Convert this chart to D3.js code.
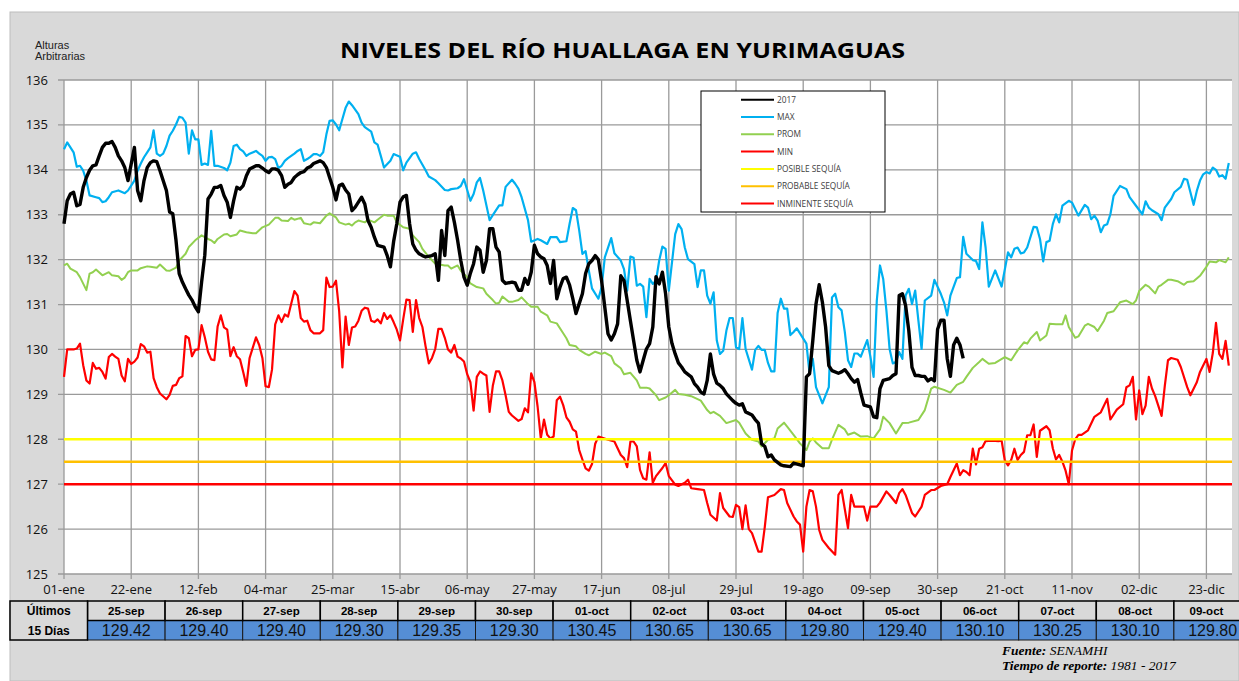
<!DOCTYPE html>
<html>
<head>
<meta charset="utf-8">
<script src="https://cdn.jsdelivr.net/npm/d3@7"></script>
<style>
  body { margin: 0; background: #fff; }
  svg { display: block; }
</style>
</head>
<body>
<svg id="chart" width="1239" height="681"></svg>
<script>
// ---- data (day of year 0 = 01-ene, value in m) ----
var tickLabels = ["01-ene","22-ene","12-feb","04-mar","25-mar","15-abr","06-may","27-may","17-jun",
  "08-jul","29-jul","19-ago","09-sep","30-sep","21-oct","11-nov","02-dic","23-dic"];

var seriesMax = [[0,134.46],[1,134.61],[3,134.39],[4,134.07],[5,134.09],[6,133.98],[7,133.76],[8,133.43],[10,133.39],
  [11,133.37],[12,133.28],[13,133.30],[14,133.39],[15,133.50],[17,133.54],[19,133.48],[20,133.54],[22,133.76],[23,133.98],
  [24,134.14],[25,134.28],[26,134.39],[27,134.50],[28,134.88],[29,134.36],[30,134.31],[31,134.36],[32,134.53],[33,134.76],
  [34,134.87],[35,135.01],[36,135.18],[37,135.16],[38,135.05],[39,134.36],[40,134.88],[41,134.68],[42,134.68],[43,134.11],
  [44,134.14],[45,134.11],[46,134.87],[47,134.09],[48,134.09],[50,134.04],[51,133.99],[52,134.16],[53,134.53],[54,134.56],
  [55,134.46],[56,134.41],[57,134.31],[58,134.36],[60,134.42],[61,134.36],[62,134.31],[63,134.20],[64,134.28],[65,134.29],
  [66,134.24],[67,134.04],[68,134.09],[69,134.20],[70,134.26],[72,134.36],[73,134.42],[74,134.46],[75,134.20],[76,134.24],
  [77,134.29],[78,134.35],[79,134.35],[80,134.31],[81,134.39],[82,134.79],[83,135.09],[84,135.10],[85,135.01],[86,134.88],
  [87,135.13],[88,135.38],[89,135.52],[90,135.44],[92,135.24],[93,135.05],[94,134.95],[96,134.85],[97,134.61],[98,134.56],
  [99,134.31],[100,134.05],[102,134.20],[103,134.35],[105,134.29],[106,133.99],[107,134.16],[109,134.36],[110,134.39],
  [111,134.24],[113,133.99],[114,133.85],[116,133.77],[117,133.70],[119,133.55],[120,133.54],[121,133.57],[123,133.59],
  [124,133.64],[125,133.79],[127,133.31],[128,133.46],[129,133.72],[130,133.82],[131,133.54],[133,132.88],[134,132.99],
  [136,133.21],[137,133.21],[138,133.62],[140,133.78],[141,133.69],[142,133.58],[143,133.39],[145,132.88],[146,132.40],
  [148,132.46],[149,132.43],[151,132.35],[152,132.50],[154,132.50],[155,132.39],[157,132.41],[158,132.80],[159,133.15],
  [160,133.10],[161,132.65],[162,132.13],[163,132.19],[164,131.76],[165,131.36],[167,131.13],[168,131.39],[169,132.05],
  [171,132.48],[172,132.14],[174,131.98],[175,131.79],[176,131.31],[177,132.07],[178,132.04],[179,131.42],[180,131.46],
  [181,131.40],[182,130.72],[183,131.57],[184,131.46],[185,131.53],[186,131.98],[187,132.29],[188,132.24],[189,131.31],
  [191,132.57],[192,132.79],[193,132.68],[194,132.27],[195,132.01],[197,131.90],[198,131.39],[199,131.76],[200,131.76],
  [201,131.20],[202,131.02],[203,131.27],[204,130.20],[205,129.90],[206,129.97],[207,130.42],[208,130.70],[209,130.70],
  [210,130.05],[211,130.01],[212,130.70],[213,130.01],[215,129.55],[216,129.99],[217,130.08],[218,129.99],[219,129.99],
  [220,129.70],[221,129.51],[222,129.51],[223,130.81],[224,131.13],[225,130.91],[226,130.91],[227,130.32],[228,130.39],
  [229,130.47],[230,130.36],[232,130.13],[233,129.46],[234,129.79],[235,129.16],[237,128.80],[239,129.16],[240,131.16],
  [241,131.24],[242,130.94],[243,130.87],[244,130.39],[245,129.76],[246,129.61],[247,129.91],[248,129.91],[249,129.84],
  [251,130.21],[252,129.84],[253,129.39],[254,131.09],[255,131.87],[256,131.57],[257,130.87],[258,130.01],[259,129.69],
  [260,129.72],[261,129.94],[262,129.79],[263,131.20],[264,131.35],[265,131.01],[266,131.31],[267,130.64],[268,130.01],
  [269,131.09],[271,131.20],[272,131.55],[274,131.24],[275,131.05],[276,130.76],[277,131.20],[279,131.59],[280,131.61],
  [281,132.51],[282,132.13],[284,131.99],[285,131.97],[286,131.79],[287,132.83],[288,132.27],[289,131.40],[291,131.76],
  [293,131.40],[295,132.16],[296,132.05],[297,132.24],[298,132.27],[299,132.14],[300,132.16],[301,132.27],[303,132.73],
  [304,132.72],[305,132.46],[306,131.96],[307,132.39],[308,132.42],[309,132.79],[310,133.01],[311,132.83],[312,133.20],
  [314,133.31],[315,133.27],[317,132.98],[319,133.22],[320,133.16],[321,132.90],[322,132.98],[323,132.87],[324,132.61],
  [325,132.76],[326,132.79],[327,133.01],[328,133.42],[330,133.64],[332,133.57],[333,133.39],[335,133.20],[337,133.01],
  [338,133.30],[339,133.16],[340,133.10],[342,133.01],[343,132.88],[344,133.16],[346,133.35],[347,133.50],[349,133.62],
  [350,133.80],[351,133.78],[352,133.50],[353,133.22],[354,133.53],[355,133.76],[356,133.90],[357,133.95],[358,133.92],
  [359,134.05],[360,134.00],[361,133.85],[362,133.88],[363,133.80],[364,134.15]];

var seriesProm = [[0,131.87],[1,131.91],[2,131.80],[4,131.72],[5,131.61],[7,131.32],[8,131.69],[9,131.72],[10,131.78],
  [12,131.65],[14,131.72],[15,131.65],[17,131.63],[18,131.55],[19,131.60],[20,131.72],[21,131.76],[23,131.76],[24,131.81],
  [26,131.85],[27,131.84],[29,131.82],[30,131.89],[32,131.76],[33,131.75],[35,131.82],[36,131.98],[38,132.13],[39,132.28],
  [41,132.43],[43,132.54],[45,132.46],[46,132.43],[47,132.37],[48,132.46],[50,132.56],[51,132.57],[52,132.52],[54,132.56],
  [55,132.65],[57,132.61],[59,132.59],[60,132.59],[62,132.72],[64,132.78],[66,132.93],[67,132.93],[68,132.87],[70,132.86],
  [71,132.93],[72,132.89],[74,132.93],[75,132.81],[77,132.78],[78,132.83],[80,132.81],[82,132.98],[83,133.03],[85,132.94],
  [86,132.83],[88,132.78],[89,132.80],[90,132.76],[91,132.83],[92,132.87],[94,132.83],[95,132.89],[97,132.83],[98,132.89],
  [100,133.00],[101,132.98],[103,132.98],[104,132.83],[106,132.72],[108,132.69],[109,132.54],[111,132.39],[112,132.24],
  [114,132.06],[116,131.91],[119,131.87],[120,131.87],[121,131.80],[123,131.87],[124,131.75],[126,131.61],[127,131.47],
  [129,131.39],[131,131.36],[132,131.24],[134,131.10],[135,131.02],[136,131.04],[137,131.18],[139,131.06],[140,131.06],
  [142,131.10],[143,131.16],[145,131.01],[146,130.95],[148,130.95],[149,130.84],[151,130.76],[152,130.62],[154,130.58],
  [156,130.36],[157,130.25],[158,130.10],[160,130.07],[161,129.99],[163,129.90],[164,129.87],[166,129.95],[168,129.90],
  [169,129.93],[171,129.85],[172,129.69],[174,129.58],[175,129.45],[177,129.48],[179,129.31],[180,129.15],[182,129.15],
  [183,129.13],[185,128.98],[186,128.87],[188,128.93],[189,128.98],[191,129.10],[192,129.01],[194,128.99],[196,128.96],
  [199,128.86],[201,128.65],[202,128.58],[203,128.61],[205,128.52],[207,128.36],[210,128.43],[211,128.37],[213,128.13],
  [215,127.99],[217,127.95],[218,127.84],[220,127.99],[222,128.02],[223,128.24],[225,128.37],[226,128.28],[228,128.10],
  [230,127.91],[232,127.76],[233,127.95],[234,128.02],[235,127.93],[237,127.80],[239,127.80],[240,127.99],[242,128.32],
  [244,128.22],[245,128.10],[247,128.15],[249,128.06],[251,128.07],[253,128.02],[255,128.22],[256,128.50],[258,128.36],
  [260,128.13],[262,128.36],[264,128.37],[267,128.43],[269,128.65],[271,129.13],[272,129.17],[275,129.10],[277,129.04],
  [279,129.21],[281,129.28],[282,129.39],[284,129.59],[286,129.72],[287,129.79],[289,129.68],[291,129.70],[294,129.83],
  [296,129.76],[298,129.98],[300,130.16],[301,130.13],[302,130.24],[304,130.39],[305,130.20],[307,130.31],[308,130.57],
  [310,130.56],[312,130.56],[313,130.76],[314,130.50],[316,130.26],[317,130.29],[319,130.53],[320,130.57],[322,130.50],
  [323,130.41],[325,130.64],[326,130.81],[328,130.85],[330,131.05],[332,131.09],[334,131.01],[335,131.09],[336,131.30],
  [338,131.44],[339,131.40],[341,131.25],[342,131.40],[343,131.44],[345,131.55],[346,131.55],[348,131.52],[350,131.44],
  [351,131.50],[353,131.52],[355,131.64],[357,131.84],[358,131.96],[360,131.94],[361,131.99],[363,131.94],[364,132.05]];

var seriesMin = [[0,129.39],[1,130.00],[3,130.00],[4,130.02],[5,130.13],[6,129.65],[7,129.31],[8,129.24],[9,129.70],
  [10,129.57],[11,129.59],[12,129.50],[13,129.35],[14,129.83],[15,129.90],[16,129.84],[17,129.79],[18,129.42],[19,129.29],
  [20,129.79],[21,129.68],[22,129.73],[23,129.82],[24,130.12],[25,130.07],[26,129.93],[27,129.95],[28,129.36],[29,129.16],
  [30,129.02],[32,128.89],[33,128.99],[34,129.19],[35,129.21],[36,129.36],[37,129.40],[38,130.30],[39,130.25],[40,129.85],
  [41,129.99],[42,130.00],[43,130.54],[44,130.27],[45,129.95],[46,129.78],[47,129.76],[48,130.51],[49,130.76],[50,130.49],
  [51,130.44],[52,129.85],[53,130.05],[54,129.85],[55,129.78],[56,129.50],[57,129.19],[58,129.81],[59,130.04],[60,130.27],
  [61,130.10],[62,129.81],[63,129.18],[64,129.16],[65,129.55],[66,130.56],[67,130.76],[68,130.61],[69,130.78],[70,130.73],
  [71,131.02],[72,131.30],[73,131.20],[74,130.70],[75,130.62],[76,130.64],[77,130.43],[78,130.36],[80,130.36],[81,130.43],
  [82,131.60],[83,131.39],[84,131.40],[85,131.53],[86,130.84],[87,129.60],[88,130.73],[89,130.10],[90,130.49],[91,130.51],
  [92,130.64],[93,130.86],[94,130.93],[95,130.91],[96,130.64],[97,130.61],[98,130.67],[99,130.58],[100,130.81],[101,130.68],
  [102,130.76],[103,130.61],[104,130.44],[105,130.20],[106,130.67],[107,131.11],[108,131.10],[109,130.39],[110,131.10],
  [111,130.70],[112,130.50],[113,130.07],[114,129.69],[115,129.81],[116,130.01],[117,130.46],[118,130.46],[119,130.26],
  [120,130.00],[121,129.93],[122,130.10],[123,129.84],[124,129.80],[125,129.73],[126,129.45],[127,129.27],[128,128.64],
  [129,129.39],[130,129.51],[131,129.46],[132,129.42],[133,128.61],[134,129.19],[135,129.51],[136,129.51],[137,129.31],
  [138,128.98],[139,128.61],[140,128.53],[142,128.41],[143,128.45],[144,128.69],[145,128.60],[146,129.47],[147,129.27],
  [148,128.73],[149,128.02],[150,128.44],[151,128.10],[152,128.02],[153,128.06],[154,128.87],[155,128.95],[156,128.76],
  [157,128.49],[158,128.39],[159,128.22],[160,128.17],[161,127.76],[162,127.55],[163,127.35],[164,127.30],[165,127.45],
  [166,127.90],[167,128.06],[168,128.04],[170,127.99],[172,127.95],[174,127.65],[175,127.58],[176,127.38],[177,127.95],
  [178,127.95],[179,127.84],[180,127.32],[181,127.13],[182,127.10],[183,127.71],[184,127.03],[185,127.18],[187,127.36],
  [188,127.47],[189,127.18],[191,126.99],[192,126.96],[194,127.03],[195,127.10],[196,126.91],[198,126.89],[200,126.87],
  [201,126.58],[202,126.32],[204,126.19],[205,126.80],[206,126.47],[208,126.28],[209,126.27],[210,126.54],[211,126.49],
  [212,126.00],[213,126.53],[214,126.00],[215,125.91],[217,125.50],[218,125.50],[219,126.05],[220,126.71],[222,126.76],
  [224,126.89],[225,126.87],[226,126.58],[228,126.28],[229,126.17],[230,126.10],[231,125.50],[232,126.50],[233,126.87],
  [234,126.84],[235,126.50],[236,125.98],[237,125.76],[239,125.58],[241,125.43],[242,126.76],[243,126.87],[245,126.02],
  [246,126.76],[247,126.50],[250,126.50],[251,126.19],[252,126.50],[254,126.50],[255,126.59],[257,126.84],[258,126.76],
  [260,126.58],[261,126.80],[262,126.89],[263,126.76],[265,126.36],[266,126.28],[268,126.50],[269,126.76],[271,126.87],
  [272,126.87],[274,126.96],[276,127.00],[277,127.16],[279,127.46],[280,127.20],[281,127.31],[282,127.27],[283,127.20],
  [284,127.79],[285,127.44],[286,127.79],[287,127.82],[288,127.96],[290,127.97],[292,127.96],[293,127.97],[294,127.53],
  [295,127.42],[296,127.54],[297,127.79],[298,127.54],[299,127.65],[300,127.72],[301,128.09],[302,128.09],[303,128.33],
  [304,127.61],[305,128.19],[307,128.29],[308,128.20],[309,127.80],[310,127.55],[311,127.65],[312,127.50],[313,127.30],
  [314,127.00],[315,127.75],[316,128.00],[317,128.10],[318,128.10],[320,128.20],[322,128.50],[324,128.60],[326,128.90],
  [327,128.44],[329,128.66],[331,128.78],[332,129.16],[333,129.20],[334,129.39],[335,128.44],[336,129.09],[337,128.56],
  [338,128.75],[339,129.39],[340,129.13],[341,128.96],[343,128.52],[344,129.19],[345,129.76],[346,129.81],[348,129.77],
  [349,129.61],[351,129.16],[352,128.98],[354,129.27],[355,129.50],[357,129.79],[358,129.50],[359,129.92],[360,130.59],
  [361,129.90],[362,129.79],[363,130.19],[364,129.64]];

var series2017 = [[0,132.80],[1,133.31],[2,133.46],[3,133.50],[4,133.20],[5,133.23],[6,133.61],[7,133.83],[8,133.99],
  [9,134.09],[10,134.11],[11,134.31],[12,134.50],[13,134.59],[14,134.59],[15,134.63],[16,134.50],[17,134.31],[18,134.20],
  [19,134.05],[20,133.76],[21,134.13],[22,134.50],[23,133.54],[24,133.31],[25,133.76],[26,134.05],[27,134.16],[28,134.20],
  [29,134.18],[30,133.98],[32,133.54],[33,133.06],[34,133.02],[35,132.43],[36,131.69],[37,131.50],[38,131.35],[39,131.21],
  [40,131.10],[41,130.95],[42,130.84],[43,131.50],[44,132.10],[45,133.35],[46,133.46],[47,133.61],[48,133.61],[49,133.65],
  [50,133.43],[51,133.28],[52,132.94],[53,133.31],[54,133.61],[55,133.57],[56,133.65],[57,133.87],[58,134.02],[60,134.09],
  [61,134.09],[62,134.04],[63,133.98],[64,133.94],[65,134.02],[66,134.02],[67,133.99],[68,133.87],[69,133.61],[70,133.68],
  [71,133.72],[72,133.83],[73,133.89],[74,133.94],[75,133.96],[76,134.04],[77,134.07],[78,134.14],[80,134.20],[81,134.16],
  [82,134.05],[83,133.83],[84,133.61],[85,133.33],[86,133.65],[87,133.68],[88,133.55],[89,133.46],[90,133.09],[91,133.17],
  [92,133.28],[93,133.39],[94,133.24],[95,132.87],[96,132.72],[97,132.50],[98,132.32],[100,132.28],[101,132.09],[102,131.84],
  [103,132.40],[104,132.80],[105,133.28],[106,133.40],[107,133.43],[108,132.80],[109,132.35],[110,132.21],[111,132.13],
  [112,132.09],[113,132.06],[115,132.09],[116,132.13],[117,131.54],[118,132.65],[119,132.09],[120,133.09],[121,133.17],
  [122,132.83],[123,132.43],[124,131.98],[125,131.61],[126,131.43],[127,131.70],[128,131.91],[129,132.28],[130,132.21],
  [131,131.72],[132,131.98],[133,132.69],[134,132.69],[135,132.28],[136,132.17],[137,131.54],[138,131.47],[140,131.50],
  [141,131.48],[142,131.32],[143,131.32],[144,131.58],[145,131.45],[146,131.72],[147,132.32],[148,132.13],[149,132.06],
  [150,132.02],[151,131.87],[152,131.47],[153,131.98],[154,131.13],[155,131.39],[156,131.58],[157,131.61],[158,131.43],
  [159,131.13],[160,130.80],[161,131.02],[162,131.24],[163,131.69],[164,131.91],[165,131.98],[166,132.09],[167,132.00],
  [168,131.53],[169,130.94],[170,130.35],[171,130.21],[172,130.35],[173,130.57],[174,131.64],[175,131.53],[176,131.09],
  [177,130.64],[178,130.20],[179,129.76],[180,129.50],[181,129.76],[182,130.01],[183,130.13],[184,130.50],[185,131.62],
  [186,131.46],[187,131.72],[188,131.24],[189,130.50],[190,130.13],[191,129.90],[192,129.70],[193,129.61],[194,129.50],
  [196,129.39],[197,129.24],[198,129.16],[199,129.05],[200,129.01],[201,129.31],[202,129.90],[203,129.45],[204,129.25],
  [205,129.20],[206,129.13],[207,129.01],[209,128.86],[210,128.80],[211,128.76],[212,128.79],[213,128.61],[215,128.54],
  [216,128.44],[217,128.36],[218,127.90],[219,127.84],[220,127.61],[221,127.65],[222,127.54],[224,127.43],[225,127.41],
  [227,127.39],[228,127.47],[230,127.43],[231,127.41],[232,129.39],[233,129.46],[234,130.20],[235,131.01],[236,131.44],
  [237,131.05],[238,130.50],[239,129.64],[240,129.53],[242,129.47],[243,129.50],[244,129.55],[245,129.46],[246,129.35],
  [247,129.27],[248,129.33],[249,129.03],[250,128.76],[252,128.72],[253,128.50],[254,128.48],[255,129.13],[256,129.31],
  [258,129.35],[259,129.42],[260,129.46],[261,131.20],[262,131.24],[263,130.98],[264,130.42],[265,129.60],[266,129.42]];

// last 15 days (also the end of the 2017 line)
var tableDates = ["25-sep","26-sep","27-sep","28-sep","29-sep","30-sep","01-oct","02-oct","03-oct",
  "04-oct","05-oct","06-oct","07-oct","08-oct","09-oct"];
var tableValues = [129.42,129.40,129.40,129.30,129.35,129.30,130.45,130.65,130.65,129.80,129.40,130.10,130.25,130.10,129.80];
var tableFirstDay = 267;

var thresholds = [
  {name: "POSIBLE SEQUÍA", value: 128, color: "#ffff00"},
  {name: "PROBABLE SEQUÍA", value: 127.5, color: "#ffc000"},
  {name: "INMINENTE SEQUÍA", value: 127, color: "#ff0000"}
];

var lineSeries = [
  {name: "MIN", data: seriesMin, color: "#ff0000", width: 2.2},
  {name: "PROM", data: seriesProm, color: "#92d050", width: 2},
  {name: "MAX", data: seriesMax, color: "#00b0f0", width: 2.2}
];

var fullYear = series2017.concat(tableValues.map(function(v, i) { return [tableFirstDay + i, v]; }));

// ---- layout ----
var svg = d3.select("#chart");
var plot = {left: 64, right: 1232, top: 80, bottom: 574};
var x = d3.scaleLinear().domain([0, 365]).range([plot.left, plot.right]);
var y = d3.scaleLinear().domain([125, 136]).range([plot.bottom, plot.top]);
var gridColor = "#9a9a9a";

// gray panel
svg.append("rect").attr("x", 10).attr("y", 12).attr("width", 1229).attr("height", 669)
  .attr("fill", "#d9d9d9").attr("stroke", "#bdbdbd").attr("stroke-width", 1);

svg.append("rect").attr("x", plot.left).attr("y", plot.top)
  .attr("width", plot.right - plot.left).attr("height", plot.bottom - plot.top)
  .attr("fill", "#fff");

// grid
var yTicks = y.ticks(11);
svg.append("g").selectAll("line.h").data(yTicks).enter().append("line")
  .attr("x1", plot.left - 6).attr("x2", plot.right)
  .attr("y1", function(d) { return y(d); }).attr("y2", function(d) { return y(d); })
  .attr("stroke", gridColor).attr("stroke-width", 1.3);

svg.append("g").selectAll("line.v").data(tickLabels).enter().append("line")
  .attr("x1", function(d, i) { return x(i * 21); }).attr("x2", function(d, i) { return x(i * 21); })
  .attr("y1", plot.top).attr("y2", plot.bottom + 5)
  .attr("stroke", gridColor).attr("stroke-width", 1.3);

// axis labels
svg.append("g").selectAll("text").data(yTicks).enter().append("text")
  .attr("x", 48).attr("y", function(d) { return y(d) + 4.5; })
  .attr("text-anchor", "end")
  .style("font", "13px 'Open Sans', sans-serif").attr("fill", "#111")
  .text(function(d) { return d; });

svg.append("g").selectAll("text").data(tickLabels).enter().append("text")
  .attr("x", function(d, i) { return x(i * 21); }).attr("y", 594)
  .attr("text-anchor", "middle")
  .style("font", "13px 'Open Sans', sans-serif").attr("fill", "#111")
  .text(function(d) { return d; });

svg.append("text").attr("x", 35).attr("y", 49)
  .style("font", "11px 'Liberation Sans', Arial, sans-serif").attr("fill", "#222").text("Alturas");
svg.append("text").attr("x", 35).attr("y", 60)
  .style("font", "11px 'Liberation Sans', Arial, sans-serif").attr("fill", "#222").text("Arbitrarias");

svg.append("text").attr("x", 340).attr("y", 58)
  .attr("textLength", 565).attr("lengthAdjust", "spacingAndGlyphs")
  .style("font", "bold 22px 'Open Sans', sans-serif").attr("fill", "#000")
  .text("NIVELES DEL RÍO HUALLAGA EN YURIMAGUAS");

// lines
var line = d3.line()
  .x(function(d) { return x(d[0]); })
  .y(function(d) { return y(d[1]); });

var gLines = svg.append("g").attr("fill", "none").attr("stroke-linejoin", "round");
lineSeries.forEach(function(s) {
  gLines.append("path").attr("d", line(s.data))
    .attr("stroke", s.color).attr("stroke-width", s.width);
});

gLines.selectAll("line.thr").data(thresholds).enter().append("line")
  .attr("x1", plot.left).attr("x2", plot.right)
  .attr("y1", function(d) { return y(d.value); }).attr("y2", function(d) { return y(d.value); })
  .attr("stroke", function(d) { return d.color; }).attr("stroke-width", 2.5);

gLines.append("path").attr("d", line(fullYear))
  .attr("stroke", "#000").attr("stroke-width", 3.4);

// legend
var legendItems = [{name: "2017", color: "#000"}]
  .concat(lineSeries.slice().reverse().map(function(s) { return {name: s.name, color: s.color}; }))
  .concat(thresholds);
var lg = svg.append("g");
lg.append("rect").attr("x", 701).attr("y", 91).attr("width", 184).attr("height", 121)
  .attr("fill", "#fff").attr("stroke", "#000").attr("stroke-width", 1);
var li = lg.selectAll("g.item").data(legendItems).enter().append("g")
  .attr("transform", function(d, i) { return "translate(0," + (99.7 + i * 17.3) + ")"; });
li.append("line").attr("x1", 741).attr("x2", 774)
  .attr("stroke", function(d) { return d.color; }).attr("stroke-width", 2);
li.append("text").attr("x", 777).attr("y", 3)
  .style("font", "8.3px 'Open Sans', sans-serif").attr("fill", "#404040")
  .text(function(d) { return d.name; });

// table
var tb = {left: 10, first: 77.5, col: 77.6, top: 601, rowH: 19.5, right: 1239};
var gt = svg.append("g");
var colX = tableDates.map(function(d, i) { return tb.left + tb.first + i * tb.col; });
gt.selectAll("rect.val").data(tableValues).enter().append("rect")
  .attr("x", function(d, i) { return colX[i]; }).attr("y", tb.top + tb.rowH)
  .attr("width", tb.col).attr("height", tb.rowH)
  .attr("fill", "#558ed5").attr("stroke", "#1a1a1a").attr("stroke-width", 1);
gt.selectAll("rect.hd").data(tableDates).enter().append("rect")
  .attr("x", function(d, i) { return colX[i]; }).attr("y", tb.top)
  .attr("width", tb.col).attr("height", tb.rowH)
  .attr("fill", "#d9d9d9").attr("stroke", "#000").attr("stroke-width", 1.5);
gt.append("rect").attr("x", tb.left).attr("y", tb.top).attr("width", tb.first).attr("height", tb.rowH * 2)
  .attr("fill", "#d9d9d9").attr("stroke", "#000").attr("stroke-width", 1.5);

gt.append("text").attr("x", tb.left + tb.first / 2).attr("y", tb.top + 14).attr("text-anchor", "middle")
  .style("font", "bold 12px 'Liberation Sans', Arial, sans-serif").text("Últimos");
gt.append("text").attr("x", tb.left + tb.first / 2).attr("y", tb.top + tb.rowH + 14).attr("text-anchor", "middle")
  .style("font", "bold 12px 'Liberation Sans', Arial, sans-serif").text("15 Días");

gt.selectAll("text.hd").data(tableDates).enter().append("text")
  .attr("x", function(d, i) { return (colX[i] + Math.min(colX[i] + tb.col, tb.right)) / 2; })
  .attr("y", tb.top + 14).attr("text-anchor", "middle")
  .style("font", "bold 11.5px 'Liberation Sans', Arial, sans-serif").text(function(d) { return d; });
gt.selectAll("text.val").data(tableValues).enter().append("text")
  .attr("x", function(d, i) { return colX[i] + tb.col / 2; })
  .attr("y", tb.top + tb.rowH + 15.5).attr("text-anchor", "middle")
  .style("font", "16px 'Liberation Sans', Arial, sans-serif").attr("fill", "#111")
  .text(function(d) { return d.toFixed(2); });

// source
var src = svg.append("g").style("font", "italic 13.5px 'Liberation Serif', 'Times New Roman', serif");
var t1 = src.append("text").attr("x", 1002).attr("y", 655);
t1.append("tspan").attr("font-weight", "bold").text("Fuente: ");
t1.append("tspan").text("SENAMHI");
var t2 = src.append("text").attr("x", 1002).attr("y", 670);
t2.append("tspan").attr("font-weight", "bold").text("Tiempo de reporte: ");
t2.append("tspan").text("1981 -  2017");
</script>
</body>
</html>
